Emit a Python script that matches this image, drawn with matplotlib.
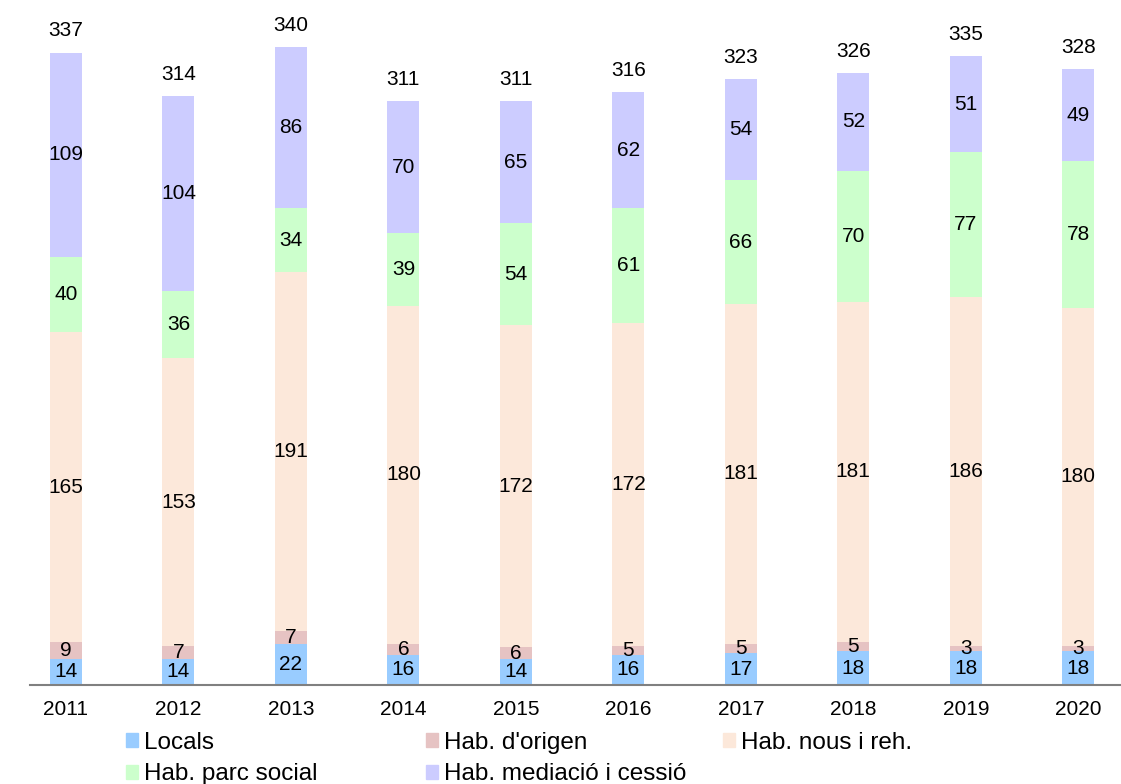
import numpy as np
import matplotlib.pyplot as plt
from matplotlib.patches import Patch

plt.rcParams['font.family'] = ['Liberation Sans', 'DejaVu Sans']

years = ['2011', '2012', '2013', '2014', '2015', '2016', '2017', '2018', '2019', '2020']
locals_ = [14, 14, 22, 16, 14, 16, 17, 18, 18, 18]
origen = [9, 7, 7, 6, 6, 5, 5, 5, 3, 3]
nous = [165, 153, 191, 180, 172, 172, 181, 181, 186, 180]
parc = [40, 36, 34, 39, 54, 61, 66, 70, 77, 78]
mediacio = [109, 104, 86, 70, 65, 62, 54, 52, 51, 49]

series = [
    ('Locals', locals_, '#99CCFF'),
    ("Hab. d'origen", origen, '#E6C3C3'),
    ('Hab. nous i reh.', nous, '#FCE8DA'),
    ('Hab. parc social', parc, '#CCFFCC'),
    ('Hab. mediació i cessió', mediacio, '#CCCCFF'),
]

fs = 15

fig = plt.figure(figsize=(11.21, 7.84), dpi=100)
ax = fig.add_axes([30 / 1121, 99 / 784, 1 - 30 / 1121, 1 - 99 / 784])

x = np.arange(len(years))
bottom = np.zeros(len(years))
handles = {}
for name, vals, col in series:
    vals = np.array(vals)
    ax.bar(x, vals, 0.285, bottom=bottom, color=col, linewidth=0)
    for xi, b, v in zip(x, bottom, vals):
        ax.text(xi, b + v / 2, str(v), ha='center', va='center', fontsize=fs)
    handles[name] = Patch(color=col)
    bottom += vals

for xi, tot in zip(x, bottom):
    ax.text(xi, tot + 6.5, str(int(tot)), ha='center', va='bottom', fontsize=fs)

ax.set_xlim(-0.32, 9.38)
ax.set_ylim(0, 365)
ax.set_xticks(x)
ax.set_xticklabels(years, fontsize=fs)
ax.tick_params(axis='x', length=0, pad=10.5)
ax.set_yticks([])
for s in ['top', 'right', 'left']:
    ax.spines[s].set_visible(False)
ax.spines['bottom'].set_color('#808080')
ax.spines['bottom'].set_linewidth(1.5)

# legend laid out as three columns
cols = [
    (126, ['Locals', 'Hab. parc social']),
    (426, ["Hab. d'origen", 'Hab. mediació i cessió']),
    (723, ['Hab. nous i reh.']),
]
for xpix, names in cols:
    fig.legend([handles[n] for n in names], names, loc='upper left',
               bbox_to_anchor=(xpix / 1121, 1 - 732 / 784), frameon=False,
               fontsize=17.5, handlelength=0.5, handleheight=0.5,
               handletextpad=0.25, labelspacing=0.38, borderpad=0,
               borderaxespad=0)

fig.savefig('out.png', dpi=100)
